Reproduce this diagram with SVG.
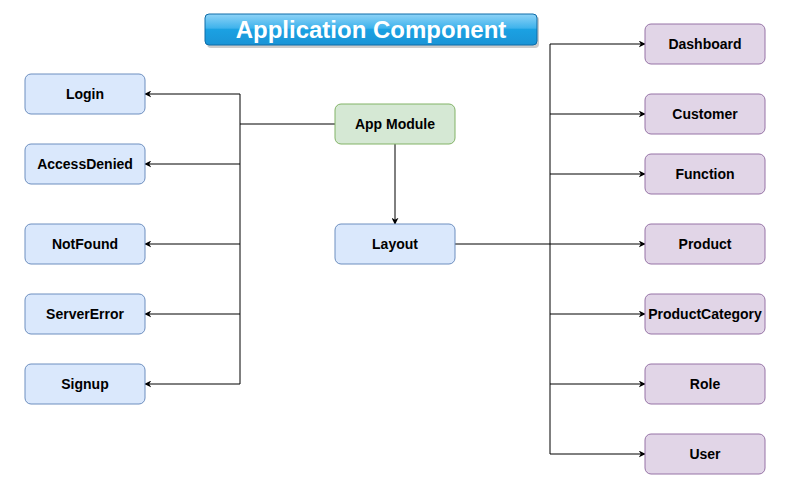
<svg xmlns="http://www.w3.org/2000/svg" width="799" height="499" viewBox="0 0 799 499">
<style>
.n rect{stroke-width:1}
.b rect{fill:#dae8fc;stroke:#6c8ebf}
.g rect{fill:#d5e8d4;stroke:#82b366}
.p rect{fill:#e1d5e7;stroke:#9673a6}
.n text{font-family:"Liberation Sans",Arial,sans-serif;font-weight:bold;font-size:14px;fill:#000;text-anchor:middle;dominant-baseline:central}
#edges path{fill:none;stroke:#000;stroke-width:1}
.t{font-family:"Liberation Sans",Arial,sans-serif;font-weight:bold;font-size:24px;fill:#fff;text-anchor:middle;dominant-baseline:central}
</style>
<defs>
<marker id="a" viewBox="0 0 10 10" refX="9" refY="5" markerWidth="7" markerHeight="7" markerUnits="userSpaceOnUse" orient="auto">
<path d="M0,0 L10,5 L0,10 L3,5 Z" fill="#000"/>
</marker>
<linearGradient id="tg" x1="0" y1="0" x2="0" y2="1">
<stop offset="0" stop-color="#8fd3f7"/>
<stop offset="0.45" stop-color="#3fb3ec"/>
<stop offset="0.5" stop-color="#1ba1e2"/>
<stop offset="1" stop-color="#1a94d6"/>
</linearGradient>
</defs>
<g id="title">
<rect x="207" y="16" width="332" height="32" rx="4" fill="#999" opacity="0.5"/>
<rect x="205" y="14" width="332" height="31" rx="4" fill="url(#tg)" stroke="#0e6ca8" stroke-width="1"/>
<text class="t" x="371" y="29.5">Application Component</text>
</g>
<g id="edges">
<path d="M335,124 H240"/>
<path d="M240,94 V384"/>
<path d="M240,94 H145" marker-end="url(#a)"/>
<path d="M240,164 H145" marker-end="url(#a)"/>
<path d="M240,244 H145" marker-end="url(#a)"/>
<path d="M240,314 H145" marker-end="url(#a)"/>
<path d="M240,384 H145" marker-end="url(#a)"/>
<path d="M395,144 V224" marker-end="url(#a)"/>
<path d="M455,244 H550"/>
<path d="M550,44 V454"/>
<path d="M550,44 H645" marker-end="url(#a)"/>
<path d="M550,114 H645" marker-end="url(#a)"/>
<path d="M550,174 H645" marker-end="url(#a)"/>
<path d="M550,244 H645" marker-end="url(#a)"/>
<path d="M550,314 H645" marker-end="url(#a)"/>
<path d="M550,384 H645" marker-end="url(#a)"/>
<path d="M550,454 H645" marker-end="url(#a)"/>
</g>
<g id="login" class="n b"><rect x="25" y="74" width="120" height="40" rx="6"/><text x="85" y="94">Login</text></g>
<g id="accessdenied" class="n b"><rect x="25" y="144" width="120" height="40" rx="6"/><text x="85" y="164">AccessDenied</text></g>
<g id="notfound" class="n b"><rect x="25" y="224" width="120" height="40" rx="6"/><text x="85" y="244">NotFound</text></g>
<g id="servererror" class="n b"><rect x="25" y="294" width="120" height="40" rx="6"/><text x="85" y="314">ServerError</text></g>
<g id="signup" class="n b"><rect x="25" y="364" width="120" height="40" rx="6"/><text x="85" y="384">Signup</text></g>
<g id="appmodule" class="n g"><rect x="335" y="104" width="120" height="40" rx="6"/><text x="395" y="124">App Module</text></g>
<g id="layout" class="n b"><rect x="335" y="224" width="120" height="40" rx="6"/><text x="395" y="244">Layout</text></g>
<g id="dashboard" class="n p"><rect x="645" y="24" width="120" height="40" rx="6"/><text x="705" y="44">Dashboard</text></g>
<g id="customer" class="n p"><rect x="645" y="94" width="120" height="40" rx="6"/><text x="705" y="114">Customer</text></g>
<g id="function" class="n p"><rect x="645" y="154" width="120" height="40" rx="6"/><text x="705" y="174">Function</text></g>
<g id="product" class="n p"><rect x="645" y="224" width="120" height="40" rx="6"/><text x="705" y="244">Product</text></g>
<g id="productcategory" class="n p"><rect x="645" y="294" width="120" height="40" rx="6"/><text x="705" y="314">ProductCategory</text></g>
<g id="role" class="n p"><rect x="645" y="364" width="120" height="40" rx="6"/><text x="705" y="384">Role</text></g>
<g id="user" class="n p"><rect x="645" y="434" width="120" height="40" rx="6"/><text x="705" y="454">User</text></g>
</svg>
